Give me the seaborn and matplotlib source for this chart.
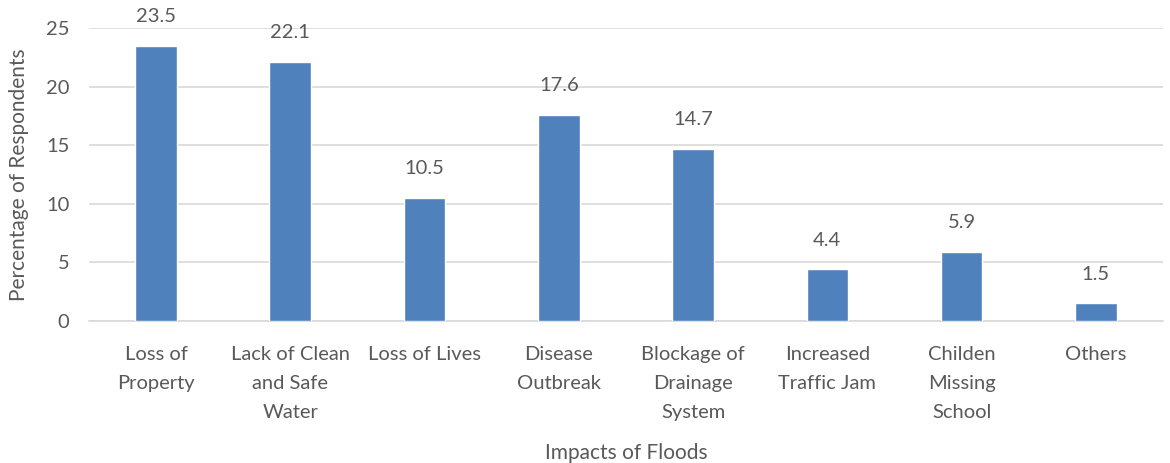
import matplotlib
matplotlib.use("Agg")
import matplotlib.pyplot as plt
import seaborn as sns
import pandas as pd

categories = [
    "Loss of\nProperty",
    "Lack of Clean\nand Safe\nWater",
    "Loss of Lives",
    "Disease\nOutbreak",
    "Blockage of\nDrainage\nSystem",
    "Increased\nTraffic Jam",
    "Childen\nMissing\nSchool",
    "Others",
]
percentages = [23.5, 22.1, 10.5, 17.6, 14.7, 4.4, 5.9, 1.5]
y_ticks = [0, 5, 10, 15, 20, 25]

sns.set_theme(style="white")
plt.rcParams["font.family"] = ["Lato", "DejaVu Sans"]

text_color = "#595959"
bar_color = "#4f81bd"
grid_color = "#d9d9d9"

df = pd.DataFrame({"impact": categories, "pct": percentages})

fig = plt.figure(figsize=(11.7, 4.63), dpi=100)
ax = fig.add_axes([0.076, 0.3067, 0.918, 0.6328])

sns.barplot(data=df, x="impact", y="pct", color=bar_color, width=0.31,
            saturation=1, ax=ax, zorder=3)

ax.set_ylim(0, 25)
ax.set_yticks(y_ticks)
ax.set_xlim(-0.5, len(categories) - 0.5)
ax.yaxis.grid(True, color=grid_color, linewidth=1.2, zorder=0)
ax.xaxis.grid(False)
for s in ["top", "right", "left"]:
    ax.spines[s].set_visible(False)
ax.spines["bottom"].set_color(grid_color)
ax.spines["bottom"].set_linewidth(1.2)

ax.tick_params(axis="both", length=0, colors=text_color, labelsize=14.5)
ax.tick_params(axis="x", pad=18)
ax.tick_params(axis="y", pad=14)
for lbl in ax.get_xticklabels():
    lbl.set_linespacing(1.85)

for container in ax.containers:
    ax.bar_label(container, labels=[f"{v:.1f}" for v in percentages],
                 padding=15, fontsize=14.5, color=text_color)

ax.set_xlabel("Impacts of Floods", fontsize=15, color=text_color, labelpad=16)
ax.set_ylabel("Percentage of Respondents", fontsize=15, color=text_color, labelpad=12)

fig.savefig("out.png", dpi=100)
